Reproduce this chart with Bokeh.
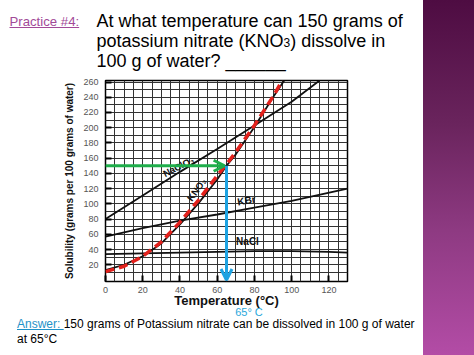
import math
from bokeh.plotting import figure
from bokeh.models import Label, Arrow, OpenHead, FixedTicker, Div, Range1d
from bokeh.layouts import row, column
from bokeh.embed import file_html
from bokeh.resources import INLINE

# ---------------- data ----------------
temps_naclo3 = [0, 20, 40, 60, 80, 100, 115]
sol_naclo3 = [80, 111, 142, 172, 203, 234, 262]

temps_kno3 = [0, 10, 20, 30, 40, 50, 60, 65, 70, 80, 90, 96]
sol_kno3 = [13, 20, 31, 48, 73, 101, 132, 150, 165, 201, 240, 262]

temps_kno3_trace = [0, 10, 20, 30, 40, 50, 60, 65, 70, 80, 90, 95]
sol_kno3_trace = [11, 18, 31, 50, 76, 105, 137, 152, 168, 203, 241, 262]

temps_kbr = [0, 20, 40, 60, 80, 100, 130]
sol_kbr = [57, 68, 78, 86, 95, 104, 120]

temps_nacl = [0, 20, 40, 60, 80, 100, 120, 130]
sol_nacl = [34, 35, 36, 37, 38, 38, 37, 36]

x_ticks = [0, 20, 40, 60, 80, 100, 120]
y_ticks = [20, 40, 60, 80, 100, 120, 140, 160, 180, 200, 220, 240, 260]

target_sol = 150
answer_temp = 65

# ---------------- layout ----------------
PAGE_W, PAGE_H = 474, 355
W = 423
HEAD_H = 78
FIG_H = 233
FOOT_H = PAGE_H - HEAD_H - FIG_H
L, R, T, B = 105, 76, 2, 30
X0, X1 = 0, 130
Y0, Y1 = -2, 262
FW, FH = W - L - R, FIG_H - T - B

FONT = "Liberation Sans"

p = figure(width=W, height=FIG_H, x_range=Range1d(X0, X1), y_range=Range1d(Y0, Y1),
           output_backend="svg", toolbar_location=None,
           min_border_left=L, min_border_right=R, min_border_top=T, min_border_bottom=B)
p.background_fill_color = "white"
p.border_fill_color = "white"
p.outline_line_color = "black"
p.outline_line_width = 1.5

# grid
p.xgrid.ticker = FixedTicker(ticks=list(range(5, 130, 5)))
p.ygrid.ticker = FixedTicker(ticks=list(range(10, 261, 10)))
for g in (p.xgrid, p.ygrid):
    g.grid_line_color = "#333333"
    g.grid_line_width = 1

# axes
for ax in (p.xaxis, p.yaxis):
    ax.axis_line_color = None
    ax.major_tick_in = 6
    ax.major_tick_out = 0
    ax.major_tick_line_width = 2
    ax.major_tick_line_color = "black"
    ax.minor_tick_line_color = None
    ax.major_label_text_font = FONT
    ax.major_label_text_font_size = "9px"
    ax.major_label_text_color = "#555555"
    ax.axis_label_text_font = FONT
    ax.axis_label_text_font_style = "bold"
    ax.axis_label_text_color = "#111111"

p.xaxis.ticker = FixedTicker(ticks=x_ticks)
p.yaxis.ticker = FixedTicker(ticks=y_ticks)
p.xaxis.major_label_standoff = 5
p.yaxis.major_label_standoff = 7
p.xaxis.axis_label = "Temperature (°C)"
p.xaxis.axis_label_text_font_size = "13px"
p.xaxis.axis_label_standoff = -3
p.yaxis.axis_label = "Solubility (grams per 100 grams of water)"
p.yaxis.axis_label_text_font_size = "10px"
p.yaxis.axis_label_standoff = 5

# curves
for xs, ys in ((temps_naclo3, sol_naclo3), (temps_kbr, sol_kbr),
               (temps_nacl, sol_nacl), (temps_kno3, sol_kno3)):
    p.line(xs, ys, line_color="#111111", line_width=1.8)

p.line(temps_kno3_trace, sol_kno3_trace, line_color="#e3211c", line_width=3.5,
       line_dash="9 5")

# curve labels (positions given in frame pixels)
def sx(px):
    return X0 + (px - L) * (X1 - X0) / FW

def sy(py):
    return Y0 + (T + FH - py) * (Y1 - Y0) / FH

def curve_label(px, py, text, deg, size="9px"):
    p.add_layout(Label(x=sx(px), y=sy(py), text=text, angle=math.radians(deg),
                       text_font=FONT, text_font_style="bold", text_font_size=size,
                       text_color="#111111", text_align="center", text_baseline="middle"))

curve_label(178, 166 - HEAD_H, "NaClO₃", 27, "9.5px")
curve_label(196, 189 - HEAD_H, "KNO₃", 55, "9.5px")
curve_label(246, 200 - HEAD_H, "KBr", 10, "10px")
curve_label(247, 241 - HEAD_H, "NaCl", 0, "10px")

# arrows
green = "#1fae4b"
blue = "#1ea3e2"
p.add_layout(Arrow(end=OpenHead(size=11, line_color=green, line_width=3),
                   x_start=0, y_start=target_sol, x_end=answer_temp - 1, y_end=target_sol,
                   line_color=green, line_width=3))
p.add_layout(Arrow(end=OpenHead(size=11, line_color=blue, line_width=3),
                   x_start=answer_temp, y_start=target_sol, x_end=answer_temp, y_end=0,
                   line_color=blue, line_width=3))

# ---------------- slide texts (HTML) ----------------
def span(left, baseline, fs, html, color="black", extra=""):
    top = baseline - 0.8465 * fs
    return (f'<div style="position:absolute;left:{left}px;top:{top:.1f}px;font-size:{fs}px;'
            f'line-height:1;color:{color};white-space:nowrap;{extra}">{html}</div>')

purple = "#a24a98"
head_html = (
    f'<div style="position:relative;width:{W}px;height:{HEAD_H}px;font-family:\'{FONT}\';">'
    + span(9.5, 26.5, 13.2, "Practice #4:", purple, "text-decoration:underline;")
    + span(96.5, 27.5, 18, f"At what temperature can {target_sol} grams of")
    + span(96.5, 47.5, 18, 'potassium nitrate (KNO<span style="font-size:12px;">3</span>) dissolve in')
    + span(96.5, 67, 18, "100 g of water? ______")
    + '</div>'
)
header = Div(text=head_html, width=W, height=HEAD_H, margin=0,
             styles={"overflow": "visible"})

FOOT_Y = HEAD_H + FIG_H
answer_blue = "#1f92c8"
foot_html = (
    f'<div style="position:relative;width:{W}px;height:{FOOT_H}px;font-family:\'{FONT}\';overflow:visible;">'
    + span(229, 316 - FOOT_Y, 11, f"{answer_temp}° C", "#2aa8dc", "width:40px;text-align:center;")
    + span(17, 328 - FOOT_Y, 12,
           f'<span style="color:{answer_blue};text-decoration:underline;">Answer: </span>'
           f'{target_sol} grams of Potassium nitrate can be dissolved in 100 g of water')
    + span(17, 343.5 - FOOT_Y, 12, f"at {answer_temp}°C")
    + '</div>'
)
footer = Div(text=foot_html, width=W, height=FOOT_H, margin=0,
             styles={"overflow": "visible"})

side = Div(text="", width=PAGE_W - W, height=PAGE_H, margin=0,
           styles={"background": "linear-gradient(to bottom, #4e0c42 0%, #6a245d 35%, #8e3a82 65%, #b34ca6 100%)",
                   "width": f"{PAGE_W - W}px", "height": f"{PAGE_H}px"})

layout = row(column(header, p, footer, spacing=0), side, spacing=0)
open("out.html", "w").write(file_html(layout, INLINE))
